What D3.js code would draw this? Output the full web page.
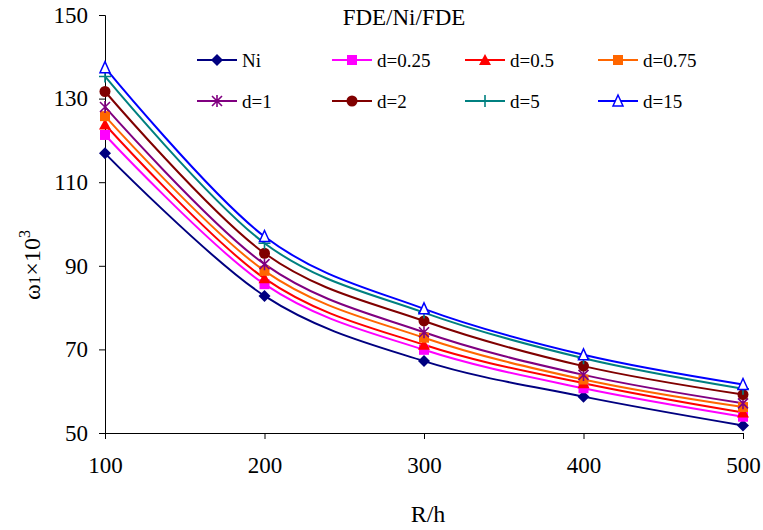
<!DOCTYPE html>
<html><head><meta charset="utf-8">
<script src="https://cdn.jsdelivr.net/npm/d3@7"></script>
<style>body{margin:0;background:#fff}svg{display:block}text{font-family:"Liberation Serif","Times New Roman",serif;fill:#000}</style>
</head><body><svg id="c" width="763" height="530"></svg>
<script>
const xValues = [100, 200, 300, 400, 500];
const seriesNames = ["Ni", "d=0.25", "d=0.5", "d=0.75", "d=1", "d=2", "d=5", "d=15"];
const sNi   = [116.9, 82.8, 67.2, 58.7, 51.8];
const s025  = [121.3, 85.6, 69.9, 60.7, 53.9];
const s05   = [123.8, 87.0, 71.1, 61.9, 54.9];
const s075  = [125.8, 88.8, 72.8, 62.8, 56.2];
const s1    = [128.0, 90.4, 74.1, 63.9, 57.1];
const s2    = [131.7, 93.0, 76.8, 66.0, 59.2];
const s5    = [135.3, 95.4, 78.8, 67.9, 60.6];
const s15   = [137.4, 97.0, 79.7, 68.7, 61.6];
const seriesValues = [sNi, s025, s05, s075, s1, s2, s5, s15];
const colors = ["#000080", "#FF00FF", "#FF0000", "#FF6600", "#800080", "#800000", "#008080", "#0000FF"];
const markers = ["diamond", "square", "triangle", "square", "asterisk", "circle", "plus", "opentriangle"];
const xTicks = [100, 200, 300, 400, 500];
const yTicks = [50, 70, 90, 110, 130, 150];

const svg = d3.select("#c");
const x = d3.scaleLinear().domain([100, 500]).range([105, 743]);
const y = d3.scaleLinear().domain([50, 150]).range([433, 15]);

// axes
const xAxis = d3.axisBottom(x).tickValues(xTicks).tickSize(6).tickPadding(18);
const yAxis = d3.axisLeft(y).tickValues(yTicks).tickSize(6).tickPadding(11);
const gx = svg.append("g").attr("transform", "translate(0,433)").call(xAxis);
const gy = svg.append("g").attr("transform", "translate(105,0)").call(yAxis);
[gx, gy].forEach(g => {
  g.selectAll("path").attr("stroke", "#000").attr("stroke-width", 1);
  g.selectAll("line").attr("stroke", "#000").attr("stroke-width", 1);
  g.selectAll("text").style("font-size", "23px").style("font-family", '"Liberation Serif",serif').attr("fill", "#000");
});

function marker(g, type, color, cx, cy) {
  const s = 5;
  if (type === "diamond") {
    g.append("path").attr("d", `M${cx},${cy-s-1}L${cx+s+1},${cy}L${cx},${cy+s+1}L${cx-s-1},${cy}Z`).attr("fill", color);
  } else if (type === "square") {
    g.append("rect").attr("x", cx-s).attr("y", cy-s).attr("width", 2*s).attr("height", 2*s).attr("fill", color);
  } else if (type === "triangle") {
    g.append("path").attr("d", `M${cx},${cy-s-1}L${cx+s+1},${cy+s}L${cx-s-1},${cy+s}Z`).attr("fill", color);
  } else if (type === "opentriangle") {
    g.append("path").attr("d", `M${cx},${cy-s-1}L${cx+s},${cy+s}L${cx-s},${cy+s}Z`).attr("fill", "#fff").attr("stroke", color).attr("stroke-width", 1.5);
  } else if (type === "circle") {
    g.append("circle").attr("cx", cx).attr("cy", cy).attr("r", s+0.5).attr("fill", color);
  } else if (type === "plus") {
    g.append("path").attr("d", `M${cx-s-1},${cy}H${cx+s+1}M${cx},${cy-s-1}V${cy+s+1}`).attr("stroke", color).attr("stroke-width", 1.6);
  } else if (type === "asterisk") {
    g.append("path").attr("d", `M${cx-s},${cy-s}L${cx+s},${cy+s}M${cx-s},${cy+s}L${cx+s},${cy-s}M${cx},${cy-s-1}V${cy+s+1}`).attr("stroke", color).attr("stroke-width", 1.6);
  }
}

const line = d3.line().x((d, i) => x(xValues[i])).y(d => y(d)).curve(d3.curveCatmullRom.alpha(0));
const plot = svg.append("g");
seriesValues.forEach((vals, k) => {
  plot.append("path").attr("d", line(vals)).attr("fill", "none").attr("stroke", colors[k]).attr("stroke-width", 2);
});
seriesValues.forEach((vals, k) => {
  vals.forEach((v, i) => marker(plot, markers[k], colors[k], x(xValues[i]), y(v)));
});

// title
svg.append("text").attr("x", 404).attr("y", 25).attr("text-anchor", "middle").style("font-size", "23px").text("FDE/Ni/FDE");

// legend
const legCols = [197, 332, 465, 598];
const legRows = [60, 101];
seriesNames.forEach((name, k) => {
  const lx = legCols[k % 4], ly = legRows[Math.floor(k / 4)];
  const g = svg.append("g");
  g.append("line").attr("x1", lx).attr("x2", lx + 40).attr("y1", ly).attr("y2", ly).attr("stroke", colors[k]).attr("stroke-width", 2);
  marker(g, markers[k], colors[k], lx + 20, ly);
  g.append("text").attr("x", lx + 45).attr("y", ly + 7).style("font-size", "19px").text(name);
});

// axis labels
svg.append("text").attr("x", 428).attr("y", 522).attr("text-anchor", "middle").style("font-size", "24px").text("R/h");
const yl = svg.append("text").attr("transform", "translate(40,265) rotate(-90)").attr("text-anchor", "middle").style("font-size", "24px");
yl.append("tspan").text("ω");
yl.append("tspan").style("font-size", "17px").text("1");
yl.append("tspan").text("×10");
yl.append("tspan").attr("dy", -10).style("font-size", "16px").text("3");
</script></body></html>
